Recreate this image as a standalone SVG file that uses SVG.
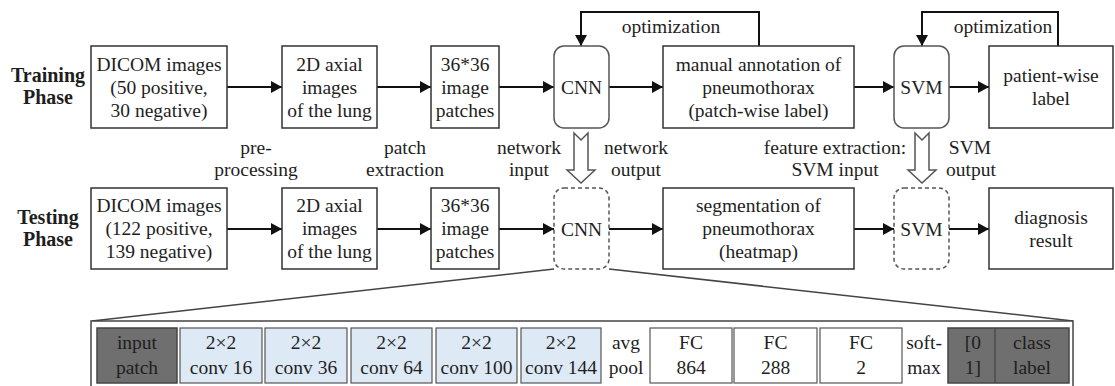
<svg xmlns="http://www.w3.org/2000/svg" width="1115" height="386" viewBox="0 0 1115 386">
<defs>
<style>
.box{fill:#fff;stroke:#333;stroke-width:1.5}
.rbox{fill:#fff;stroke:#555;stroke-width:1.5}
.dbox{fill:#fff;stroke:#555;stroke-width:1.5;stroke-dasharray:4 3}
.t{font-family:"Liberation Serif","Times New Roman",serif;font-size:19.5px;fill:#1e1e1e;text-anchor:middle}
.b{font-weight:bold;font-size:20px}
.r{text-anchor:end}
.conn{fill:none;stroke:#111;stroke-width:2}
.hollow{fill:#fff;stroke:#555;stroke-width:1.5;stroke-linejoin:miter}
.zoom{fill:none;stroke:#444;stroke-width:1.5}
.outer{fill:#fff;stroke:#444;stroke-width:1.5}
.dark{fill:#6f6f6f;stroke:#444;stroke-width:1.5}
.blue{fill:#dde9f5;stroke:#555;stroke-width:1.2}
.white{fill:#fff;stroke:#555;stroke-width:1.2}
</style>
<marker id="ah" markerUnits="userSpaceOnUse" markerWidth="12" markerHeight="12" refX="11" refY="6" orient="auto">
<path d="M0,0 L11,6 L0,12 z" fill="#111"/>
</marker>
</defs>
<rect width="1115" height="386" fill="#fff"/>

<g id="phase-labels">
<text class="t b" x="48" y="82">Training</text>
<text class="t b" x="48" y="104">Phase</text>
<text class="t b" x="48" y="224">Testing</text>
<text class="t b" x="48" y="246">Phase</text>
</g>

<g id="connectors">
<line class="conn" x1="227" y1="87" x2="282" y2="87" marker-end="url(#ah)"/>
<line class="conn" x1="377" y1="87" x2="431" y2="87" marker-end="url(#ah)"/>
<line class="conn" x1="499" y1="87" x2="554" y2="87" marker-end="url(#ah)"/>
<line class="conn" x1="609" y1="87" x2="663" y2="87" marker-end="url(#ah)"/>
<line class="conn" x1="854" y1="87" x2="894" y2="87" marker-end="url(#ah)"/>
<line class="conn" x1="949" y1="87" x2="989" y2="87" marker-end="url(#ah)"/>
<line class="conn" x1="227" y1="229" x2="282" y2="229" marker-end="url(#ah)"/>
<line class="conn" x1="377" y1="229" x2="431" y2="229" marker-end="url(#ah)"/>
<line class="conn" x1="499" y1="229" x2="554" y2="229" marker-end="url(#ah)"/>
<line class="conn" x1="609" y1="229" x2="663" y2="229" marker-end="url(#ah)"/>
<line class="conn" x1="854" y1="229" x2="894" y2="229" marker-end="url(#ah)"/>
<line class="conn" x1="949" y1="229" x2="989" y2="229" marker-end="url(#ah)"/>
<path class="conn" d="M759,46 V12 H581 V46" marker-end="url(#ah)"/>
<path class="conn" d="M1058,46 V12 H922 V46" marker-end="url(#ah)"/>
<text class="t" x="671" y="33">optimization</text>
<text class="t" x="1003" y="33">optimization</text>
<path class="hollow" d="M574,133 L581,140 L588,133 V170 H595 L581,183 L567,170 H574 Z"/>
<path class="hollow" d="M915,133 L922,140 L929,133 V170 H936 L922,183 L908,170 H915 Z"/>
<text class="t" x="256" y="154">pre-</text>
<text class="t" x="256" y="176">processing</text>
<text class="t" x="405" y="154">patch</text>
<text class="t" x="405" y="176">extraction</text>
<text class="t" x="529" y="154">network</text>
<text class="t" x="529" y="176">input</text>
<text class="t" x="636" y="154">network</text>
<text class="t" x="636" y="176">output</text>
<text class="t" x="835" y="154">feature extraction:</text>
<text class="t" x="835" y="176">SVM input</text>
<text class="t" x="970" y="154">SVM</text>
<text class="t" x="971" y="176">output</text>
<line class="zoom" x1="554" y1="269" x2="92" y2="321"/>
<line class="zoom" x1="609" y1="269" x2="1073" y2="321"/>
</g>

<g id="train-dicom">
<rect class="box" x="91" y="46" width="136" height="82"/>
<text class="t" x="159" y="71">DICOM images</text>
<text class="t" x="159" y="94">(50 positive,</text>
<text class="t" x="159" y="117">30 negative)</text>
</g>
<g id="train-axial">
<rect class="box" x="282" y="46" width="95" height="82"/>
<text class="t" x="329.5" y="71">2D axial</text>
<text class="t" x="329.5" y="94">images</text>
<text class="t" x="329.5" y="117">of the lung</text>
</g>
<g id="train-patches">
<rect class="box" x="431" y="46" width="68" height="82"/>
<text class="t" x="465" y="71">36*36</text>
<text class="t" x="465" y="94">image</text>
<text class="t" x="465" y="117">patches</text>
</g>
<g id="train-cnn">
<rect class="rbox" x="554" y="46" width="55" height="82" rx="10"/>
<text class="t" x="581.5" y="94">CNN</text>
</g>
<g id="train-annotation">
<rect class="box" x="663" y="46" width="191" height="82"/>
<text class="t" x="758.5" y="71">manual annotation of</text>
<text class="t" x="758.5" y="94">pneumothorax</text>
<text class="t" x="758.5" y="117">(patch-wise label)</text>
</g>
<g id="train-svm">
<rect class="rbox" x="894" y="46" width="55" height="82" rx="10"/>
<text class="t" x="921.5" y="94">SVM</text>
</g>
<g id="train-label">
<rect class="box" x="989" y="46" width="124" height="82"/>
<text class="t" x="1051" y="82">patient-wise</text>
<text class="t" x="1051" y="105">label</text>
</g>

<g id="test-dicom">
<rect class="box" x="91" y="188" width="136" height="81"/>
<text class="t" x="159" y="212">DICOM images</text>
<text class="t" x="159" y="235">(122 positive,</text>
<text class="t" x="159" y="258">139 negative)</text>
</g>
<g id="test-axial">
<rect class="box" x="282" y="188" width="95" height="81"/>
<text class="t" x="329.5" y="212">2D axial</text>
<text class="t" x="329.5" y="235">images</text>
<text class="t" x="329.5" y="258">of the lung</text>
</g>
<g id="test-patches">
<rect class="box" x="431" y="188" width="68" height="81"/>
<text class="t" x="465" y="212">36*36</text>
<text class="t" x="465" y="235">image</text>
<text class="t" x="465" y="258">patches</text>
</g>
<g id="test-cnn">
<rect class="dbox" x="554" y="188" width="55" height="81" rx="10"/>
<text class="t" x="581.5" y="236">CNN</text>
</g>
<g id="test-segmentation">
<rect class="box" x="663" y="188" width="191" height="81"/>
<text class="t" x="758.5" y="212">segmentation of</text>
<text class="t" x="758.5" y="235">pneumothorax</text>
<text class="t" x="758.5" y="258">(heatmap)</text>
</g>
<g id="test-svm">
<rect class="dbox" x="894" y="188" width="55" height="81" rx="10"/>
<text class="t" x="921.5" y="236">SVM</text>
</g>
<g id="test-result">
<rect class="box" x="989" y="188" width="124" height="81"/>
<text class="t" x="1051" y="224">diagnosis</text>
<text class="t" x="1051" y="247">result</text>
</g>

<g id="cnn-architecture">
<rect class="outer" x="91" y="321" width="982" height="75"/>
<g id="layer-input">
<rect class="dark" x="97" y="328" width="80" height="55"/>
<text class="t" x="137" y="349">input</text>
<text class="t" x="137" y="374">patch</text>
</g>
<g id="layer-conv16">
<rect class="blue" x="180" y="328" width="82" height="55"/>
<text class="t" x="221" y="349">2×2</text>
<text class="t" x="221" y="374">conv 16</text>
</g>
<g id="layer-conv36">
<rect class="blue" x="265" y="328" width="82" height="55"/>
<text class="t" x="306" y="349">2×2</text>
<text class="t" x="306" y="374">conv 36</text>
</g>
<g id="layer-conv64">
<rect class="blue" x="351" y="328" width="81" height="55"/>
<text class="t" x="391.5" y="349">2×2</text>
<text class="t" x="391.5" y="374">conv 64</text>
</g>
<g id="layer-conv100">
<rect class="blue" x="436" y="328" width="81" height="55"/>
<text class="t" x="476.5" y="349">2×2</text>
<text class="t" x="476.5" y="374">conv 100</text>
</g>
<g id="layer-conv144">
<rect class="blue" x="521" y="328" width="80" height="55"/>
<text class="t" x="561" y="349">2×2</text>
<text class="t" x="561" y="374">conv 144</text>
</g>
<g id="layer-avgpool">
<text class="t" x="626" y="349">avg</text>
<text class="t" x="626" y="374">pool</text>
</g>
<g id="layer-fc864">
<rect class="white" x="650" y="328" width="82" height="55"/>
<text class="t" x="691" y="349">FC</text>
<text class="t" x="691" y="374">864</text>
</g>
<g id="layer-fc288">
<rect class="white" x="734" y="328" width="83" height="55"/>
<text class="t" x="775.5" y="349">FC</text>
<text class="t" x="775.5" y="374">288</text>
</g>
<g id="layer-fc2">
<rect class="white" x="820" y="328" width="82" height="55"/>
<text class="t" x="861" y="349">FC</text>
<text class="t" x="861" y="374">2</text>
</g>
<g id="layer-softmax">
<text class="t" x="924" y="349">soft-</text>
<text class="t" x="924" y="374">max</text>
</g>
<g id="layer-output">
<rect class="dark" x="948" y="328" width="121" height="55"/>
<line x1="995" y1="328" x2="995" y2="383" stroke="#444" stroke-width="1.2"/>
<text class="t r" x="981" y="349">[0</text>
<text class="t r" x="981" y="374">1]</text>
<text class="t" x="1032" y="349">class</text>
<text class="t" x="1032" y="374">label</text>
</g>
</g>
</svg>
